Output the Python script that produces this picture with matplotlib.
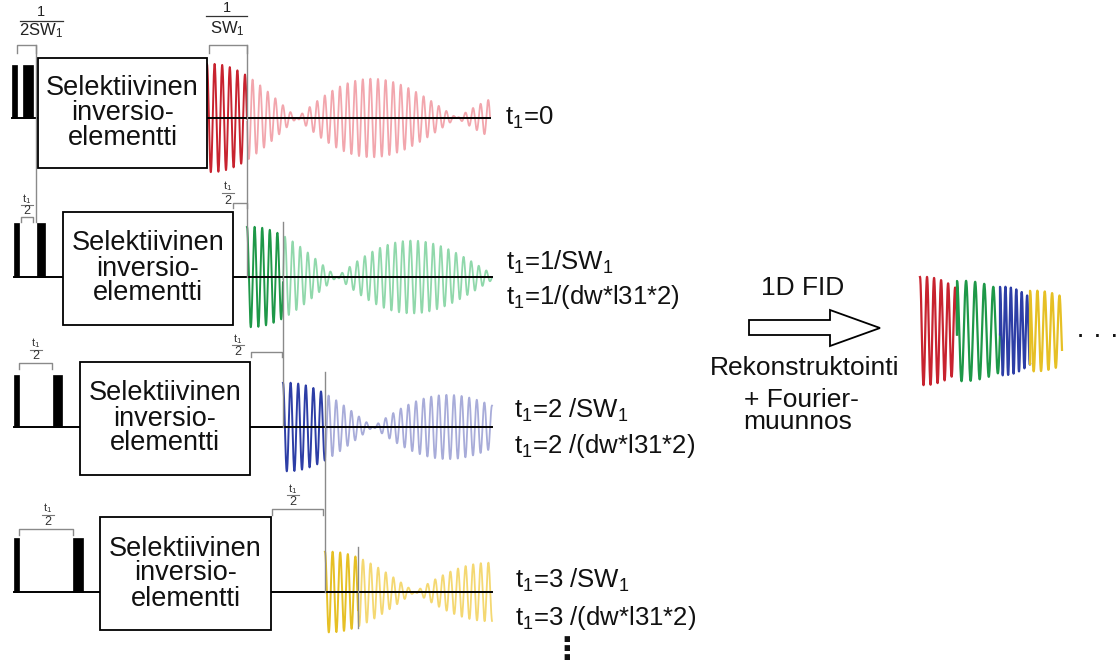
import numpy as np
import matplotlib
matplotlib.use("Agg")
import matplotlib.pyplot as plt
from matplotlib.patches import Rectangle, Polygon

plt.rcParams['font.family'] = ['Liberation Sans', 'DejaVu Sans']
plt.rcParams['mathtext.fontset'] = 'custom'
plt.rcParams['mathtext.rm'] = 'Liberation Sans'
plt.rcParams['mathtext.it'] = 'Liberation Sans:italic'
plt.rcParams['mathtext.bf'] = 'Liberation Sans:bold'

# ---------------- data ----------------
label_line1 = ['t$_1$=0', 't$_1$=1/SW$_1$', 't$_1$=2 /SW$_1$', 't$_1$=3 /SW$_1$']
label_line2 = [None, 't$_1$=1/(dw*l31*2)', 't$_1$=2 /(dw*l31*2)', 't$_1$=3 /(dw*l31*2)']
box_lines = ['Selektiivinen', 'inversio-', 'elementti']
dark_colors = ['#c8232f', '#1e9848', '#2d3ea6', '#e6c025']
light_colors = ['#f2a6ad', '#90d8ab', '#a8acd9', '#f4d872']
fid_amplitude = [55, 51, 45, 41]     # initial FID amplitude per row
fid_period = 7.6                     # carrier period
fid_decay = 500                      # decay constant
beat_period = 160                    # beat (node spacing)
beat_offset = 10

# ---------------- layout (pixel coordinates) ----------------
baseline_y = [118, 277, 427, 592]
pulse_a = [(12, 17), (14, 19), (14, 19), (14, 19)]
pulse_b = [(23, 33), (37, 45), (53, 62), (73, 83)]
pulse_top = [65, 223, 375, 538]
box_x = [(38, 207), (63, 233), (80, 250), (100, 271)]
box_y = [(58, 168), (212, 325), (362, 475), (517, 630)]
fid_start = [207, 247, 283, 325]
dark_end = [247, 283, 325, 358]
fid_end = [490, 492, 492, 492]
label_x = [505, 506, 514, 515]
label_y1 = [118, 262, 410, 580]
label_y2 = [None, 297, 446, 618]

fig = plt.figure(figsize=(11.2, 6.68), dpi=100)
ax = fig.add_axes([0, 0, 1, 1])
ax.set_xlim(0, 1120)
ax.set_ylim(668, 0)
ax.axis('off')

GRAY = '#8a8a8a'


def fid(t, amp):
    return amp * np.exp(-t / fid_decay) * np.cos(np.pi * (t - beat_offset) / beat_period) \
        * np.cos(2 * np.pi * t / fid_period)


for i in range(4):
    by = baseline_y[i]
    # pulses
    for (x0, x1) in (pulse_a[i], pulse_b[i]):
        ax.add_patch(Rectangle((x0, pulse_top[i]), x1 - x0, by - pulse_top[i],
                               facecolor='black', edgecolor='black', lw=0.5, zorder=3))
    # baseline to box
    ax.plot([pulse_a[i][0], box_x[i][0]], [by, by], color='black', lw=1.4, zorder=2)
    # box
    bx0, bx1 = box_x[i]
    by0, by1 = box_y[i]
    ax.add_patch(Rectangle((bx0, by0), bx1 - bx0, by1 - by0, facecolor='white',
                           edgecolor='black', lw=1.3, zorder=3))
    cx = (bx0 + bx1) / 2
    cy = (by0 + by1) / 2
    for k, (txt, off) in enumerate(zip(box_lines, [-18, 7, 32])):
        ax.text(cx, cy + off, txt, ha='center', va='baseline', fontsize=19.5,
                color='#111111', zorder=4)
    # baseline after box
    ax.plot([bx1, fid_end[i]], [by, by], color='black', lw=1.4, zorder=2)
    # FID
    t = np.linspace(0, fid_end[i] - fid_start[i], 3000)
    s = fid(t, fid_amplitude[i])
    x = fid_start[i] + t
    dmask = x <= dark_end[i]
    ax.plot(x[~dmask], by - s[~dmask], color=light_colors[i], lw=1.3, zorder=1)
    ax.plot(x[dmask], by - s[dmask], color=dark_colors[i], lw=1.4, zorder=1.5)
    # labels
    ax.text(label_x[i], label_y1[i], label_line1[i], ha='left', va='center',
            fontsize=18.5, color='#111111')
    if label_line2[i]:
        ax.text(label_x[i], label_y2[i], label_line2[i], ha='left', va='center',
                fontsize=18.5, color='#111111')

# vertical gray guide lines
vlines = [(35.5, 45, 222), (247, 45, 277), (283, 222, 427), (325, 372, 592), (358, 547, 628)]
for (xv, y0, y1) in vlines:
    ax.plot([xv, xv], [y0, y1], color=GRAY, lw=1.0, zorder=2.5)

# brackets: (x0, x1, y, tick)
brackets = [(17, 36, 45, 8), (209, 247, 45, 8), (21, 33, 217, 5), (233, 247, 203, 5),
            (19, 52, 363, 6), (251, 282, 352, 5), (19, 73, 529, 6), (272, 323, 509, 6)]
for (x0, x1, y, tk) in brackets:
    ax.plot([x0, x0, x1, x1], [y + tk, y, y, y + tk], color=GRAY, lw=1.0, zorder=2.5)

# t1/2 fraction labels: (x, t1_y, bar_y, two_y)
halves = [(27, 199, 205, 211), (228, 186, 193, 201), (36, 343, 350, 356),
          (238, 339, 345, 352), (48, 508, 515, 522), (293, 489, 495, 502)]
for (xf, ty, bary, twoy) in halves:
    ax.text(xf, ty, 't$_1$', ha='center', va='center', fontsize=8, color='#333333')
    ax.plot([xf - 6, xf + 6], [bary, bary], color='#777777', lw=0.8)
    ax.text(xf, twoy, '2', ha='center', va='center', fontsize=9, color='#333333')

# top fractions
ax.text(41, 12, '1', ha='center', va='center', fontsize=10.5, color='#222222')
ax.plot([20, 63], [21, 21], color='#333333', lw=0.9)
ax.text(41, 31, '2SW$_1$', ha='center', va='center', fontsize=12, color='#222222')
ax.text(227, 8, '1', ha='center', va='center', fontsize=10.5, color='#222222')
ax.plot([206, 247], [16, 16], color='#333333', lw=0.9)
ax.text(227, 29, 'SW$_1$', ha='center', va='center', fontsize=12, color='#222222')

# vertical ellipsis under last row
ax.text(567, 650, '\u22ee', ha='center', va='center', fontsize=22, color='#111111',
        family='DejaVu Sans', fontweight='bold')

# right side: arrow + texts
arrow = Polygon([(749, 320), (830, 320), (830, 310), (880, 328), (830, 346),
                 (830, 335), (749, 335)], closed=True, facecolor='white',
                edgecolor='black', lw=1.3)
ax.add_patch(arrow)
ax.text(803, 288, '1D FID', ha='center', va='center', fontsize=19, color='#111111')
ax.text(805, 368, 'Rekonstruktointi', ha='center', va='center', fontsize=19, color='#111111')
ax.text(801, 400, '+ Fourier-', ha='center', va='center', fontsize=19, color='#111111')
ax.text(798, 422, 'muunnos', ha='center', va='center', fontsize=19, color='#111111')

# reconstructed FID from dark segments
comp_edges = [920, 957, 1000, 1030, 1062]
comp_center = 331
prev = None
for i in range(4):
    w = dark_end[i] - fid_start[i]
    t = np.linspace(0, w, 600)
    s = fid(t, fid_amplitude[i])
    x = comp_edges[i] + t * (comp_edges[i + 1] - comp_edges[i]) / w
    y = comp_center - s
    if prev is not None:
        x = np.concatenate([[prev[0]], x])
        y = np.concatenate([[prev[1]], y])
    ax.plot(x, y, color=dark_colors[i], lw=1.6)
    prev = (x[-1], y[-1])

ax.text(1097, 336, '· · ·', ha='center', va='center', fontsize=20, color='#111111')

fig.savefig('out.png', dpi=100)
